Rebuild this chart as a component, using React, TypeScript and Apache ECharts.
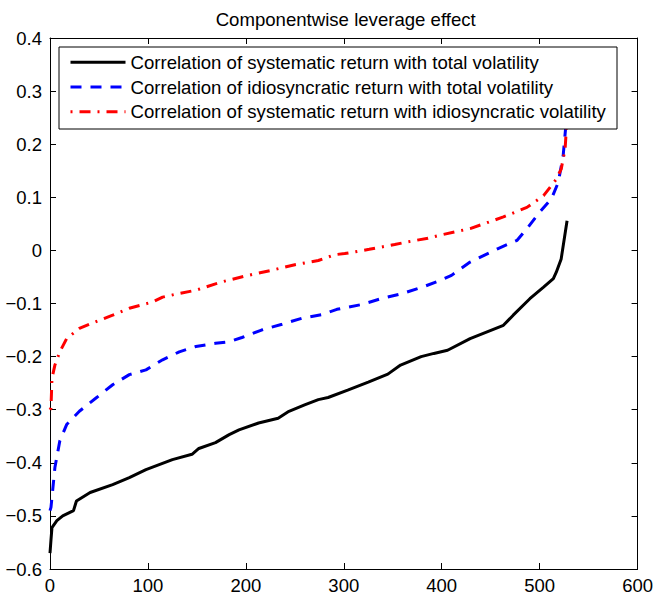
import React, { useEffect, useRef } from "react";
import * as echarts from "echarts";

const titleText = "Componentwise leverage effect";
const seriesNames = [
  "Correlation of systematic return with total volatility",
  "Correlation of idiosyncratic return with total volatility",
  "Correlation of systematic return with idiosyncratic volatility",
];

const blackX = [0, 1, 2, 7, 13, 24, 27, 41, 64, 81, 98, 125, 145, 152, 169, 183, 193, 213, 233, 244, 260, 274, 284, 304, 325, 345, 358, 379, 392, 406, 429, 463, 473, 490, 504, 514, 517, 522, 528];
const blackY = [-0.57, -0.545, -0.522, -0.509, -0.5, -0.49, -0.472, -0.456, -0.441, -0.428, -0.413, -0.394, -0.384, -0.373, -0.362, -0.347, -0.338, -0.325, -0.316, -0.303, -0.291, -0.281, -0.277, -0.263, -0.248, -0.233, -0.216, -0.2, -0.194, -0.188, -0.166, -0.141, -0.122, -0.091, -0.069, -0.053, -0.041, -0.016, 0.056];

const blueX = [0, 1, 5, 10, 17, 30, 47, 64, 81, 98, 115, 132, 149, 169, 183, 196, 216, 237, 257, 277, 293, 318, 338, 360, 382, 399, 410, 429, 457, 477, 487, 500, 512, 519, 524, 528];
const blueY = [-0.49, -0.484, -0.409, -0.359, -0.328, -0.303, -0.278, -0.253, -0.234, -0.225, -0.206, -0.191, -0.181, -0.175, -0.172, -0.164, -0.15, -0.139, -0.128, -0.121, -0.111, -0.102, -0.091, -0.081, -0.068, -0.056, -0.047, -0.022, 0.003, 0.019, 0.041, 0.072, 0.097, 0.128, 0.178, 0.26];

const redX = [0, 1, 2, 5, 10, 17, 30, 47, 64, 81, 105, 115, 132, 149, 169, 176, 200, 225, 250, 274, 291, 301, 326, 352, 365, 386, 399, 429, 463, 487, 504, 517, 522, 526, 528];
const redY = [-0.3, -0.297, -0.241, -0.216, -0.191, -0.166, -0.147, -0.134, -0.122, -0.109, -0.097, -0.088, -0.081, -0.075, -0.063, -0.059, -0.048, -0.038, -0.027, -0.019, -0.008, -0.006, 0.002, 0.011, 0.016, 0.023, 0.029, 0.041, 0.063, 0.081, 0.103, 0.134, 0.153, 0.191, 0.25];

const xTicks = { min: 0, max: 600, interval: 100 };
const yTicks = { min: -0.6, max: 0.4, interval: 0.1 };

const FONT = "'Liberation Sans', Arial, Helvetica, sans-serif";

const zip = (xs: number[], ys: number[]) => xs.map((x, i) => [x, ys[i]]);

export default function App() {
  const ref = useRef<HTMLDivElement>(null);
  useEffect(() => {
    if (!ref.current) return;
    const chart = echarts.init(ref.current, null, { renderer: "svg" });
    const axisCommon = {
      type: "value" as const,
      axisLine: { show: true, onZero: false, lineStyle: { color: "#000", width: 1 } },
      axisTick: { show: true, inside: true, length: 6, lineStyle: { color: "#000", width: 1 } },
      splitLine: { show: false },
    };
    const yFmt = (v: number) => {
      const r = Math.round(v * 10) / 10;
      if (Math.abs(r) < 1e-9) return "0";
      return (r < 0 ? "\u2212" : "") + Math.abs(r).toFixed(1);
    };
    chart.setOption({
      animation: false,
      backgroundColor: "#fff",
      textStyle: { fontFamily: FONT },
      grid: { left: 50, right: 15, top: 38, bottom: 23, containLabel: false },
      xAxis: [
        {
          ...axisCommon,
          position: "bottom",
          ...xTicks,
          axisLabel: { show: true, color: "#000", fontSize: 18.5, fontFamily: FONT, margin: 7 },
        },
        {
          ...axisCommon,
          position: "top",
          ...xTicks,
          axisLabel: { show: false },
        },
      ],
      yAxis: [
        {
          ...axisCommon,
          position: "left",
          ...yTicks,
          axisLabel: { show: true, color: "#000", fontSize: 18.5, fontFamily: FONT, margin: 8, formatter: yFmt },
        },
        {
          ...axisCommon,
          position: "right",
          ...yTicks,
          axisLabel: { show: false },
        },
      ],
      legend: {
        show: true,
        orient: "vertical",
        left: 59,
        top: 47,
        padding: [5.3, 8, 5, 10],
        itemWidth: 55,
        itemHeight: 14,
        itemGap: 4.7,
        selectedMode: false,
        z: 5,
        lineStyle: { width: 3 },
        itemStyle: { opacity: 0, color: "transparent", borderWidth: 0 },
        textStyle: { color: "#000", fontSize: 18.6, fontFamily: FONT, lineHeight: 20 },
        data: seriesNames,
      },
      graphic: [
        {
          type: "rect",
          z: 4,
          shape: { x: 59, y: 47, width: 558, height: 82 },
          style: { fill: "#fff", stroke: "#000", lineWidth: 1 },
        },
        {
          type: "text",
          x: 345.7,
          y: 19.5,
          style: {
            text: titleText,
            fill: "#000",
            font: `18.6px ${FONT}`,
            textAlign: "center",
            textVerticalAlign: "middle",
          },
        },
      ],
      series: [
        {
          name: seriesNames[0],
          type: "line",
          data: zip(blackX, blackY),
          symbol: "none",
          showSymbol: false,
          z: 2,
          lineStyle: { color: "#000", width: 3, type: "solid" },
          itemStyle: { color: "#000" },
        },
        {
          name: seriesNames[1],
          type: "line",
          data: zip(blueX, blueY),
          symbol: "none",
          showSymbol: false,
          z: 2,
          lineStyle: { color: "#0000ff", width: 3, type: [11, 9], cap: "butt" },
          itemStyle: { color: "#0000ff" },
        },
        {
          name: seriesNames[2],
          type: "line",
          data: zip(redX, redY),
          symbol: "none",
          showSymbol: false,
          z: 2,
          lineStyle: { color: "#ff0000", width: 3, type: [11, 7, 2, 7], dashOffset: 18, cap: "butt" },
          itemStyle: { color: "#ff0000" },
        },
      ],
    });
    return () => chart.dispose();
  }, []);
  return (
    <div
      ref={ref}
      style={{ position: "fixed", left: 0, top: 0, width: 656, height: 595, background: "#fff" }}
    />
  );
}
